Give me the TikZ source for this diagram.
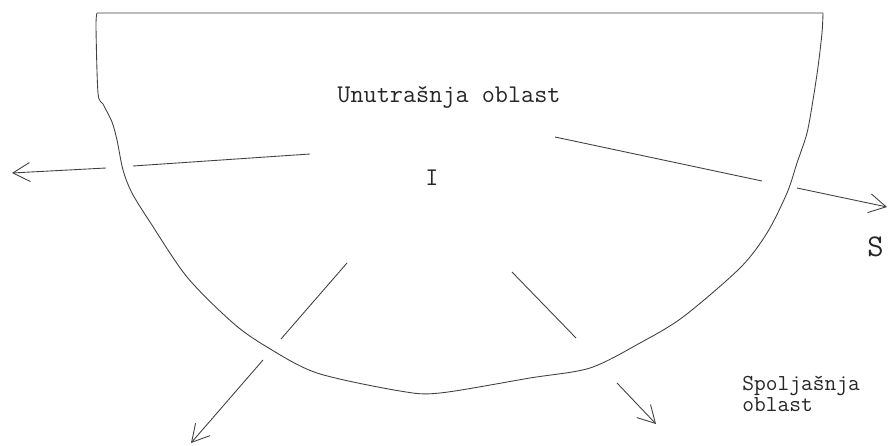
\documentclass[tikz,border=0pt]{standalone}
\usepackage{tikz}
\usetikzlibrary{arrows.meta}

\begin{document}
\begin{tikzpicture}[x=0.02cm, y=-0.02cm,
    pen/.style={line width=0.5pt, black!75},
    normal/.style={pen, -{Straight Barb[length=3.4mm, width=3.8mm]}},
    plotlabel/.style={inner sep=0pt, font=\ttfamily\fontsize{14.5}{15}\selectfont, black!85}]
    \useasboundingbox (0,0) rectangle (890,446);

    % Boundary of the inner region
    \draw[pen] (823,13) -- (97,13)
        plot[smooth, tension=0.5] coordinates {(97,13) (96,27) (98,93) (103,104) (112,122)
            (117,140) (123,170) (132,193) (150,222) (187,277) (233,323) (267,347)
            (317,373) (400,391) (440,393) (530,378) (590,368) (640,343) (683,317)
            (740,268) (767,233) (787,193) (797,163) (807,133) (813,100) (818,67)
            (822,33) (823,13)};

    % Normals: inner part and outer part with the arrow
    \coordinate (n1a) at (310,154);  \coordinate (n1b) at (133,166);
    \coordinate (n1c) at (106,168);  \coordinate (n1d) at (12,173);
    \coordinate (n2a) at (555,137);  \coordinate (n2b) at (762,181);
    \coordinate (n2c) at (797,188);  \coordinate (n2d) at (887,207);
    \coordinate (n3a) at (347,263);  \coordinate (n3b) at (281,339);
    \coordinate (n3c) at (263,360);  \coordinate (n3d) at (191,443);
    \coordinate (n4a) at (512,272);  \coordinate (n4b) at (576,338);
    \coordinate (n4c) at (617,383);  \coordinate (n4d) at (656,424);

    \foreach \k in {1,...,4} {
        \draw[pen] (n\k a) -- (n\k b);
        \draw[normal] (n\k c) -- (n\k d);
    }

    % Labels
    \node[plotlabel] (inner) at (449,97) {Unutrašnja oblast};
    \node[plotlabel] (regI) at (432,178) {I};
    \node[plotlabel, anchor=west, font=\ttfamily\fontsize{18}{18}\selectfont] (surfS) at (867,247) {S};
    \node[plotlabel, anchor=north west, align=left, font=\ttfamily\fontsize{13}{8.5}\selectfont]
        (outer) at (742,376) {Spoljašnja\\oblast};
\end{tikzpicture}
\end{document}
